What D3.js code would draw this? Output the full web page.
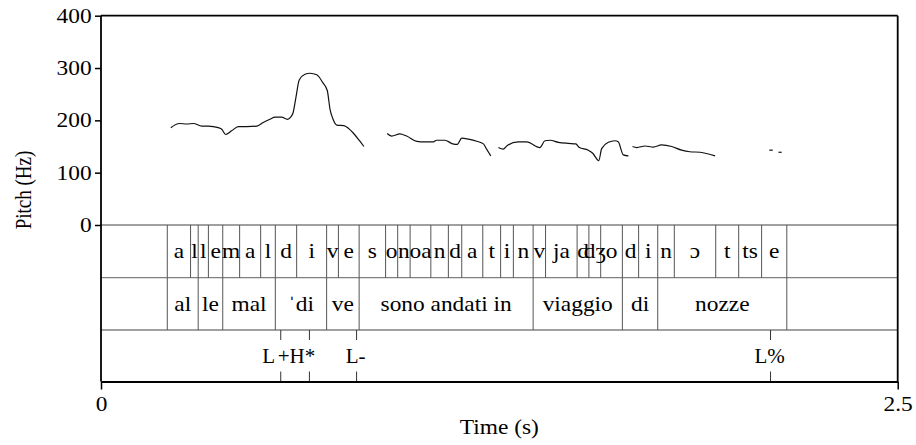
<!DOCTYPE html>
<html>
<head>
<meta charset="utf-8">
<script src="https://cdn.jsdelivr.net/npm/d3@7"></script>
<style>
  html, body { margin: 0; padding: 0; background: #fff; }
  svg { display: block; }
  text { font-family: "Liberation Serif", "Times New Roman", serif; fill: #000; }
</style>
</head>
<body>
<svg id="chart" width="916" height="445"></svg>
<script>
// ---------- DATA ----------
const yTicks = [0, 100, 200, 300, 400];
const xTicks = [0, 2.5];
const xTickLabels = ["0", "2.5"];

// pitch contour pieces: [time (s), F0 (Hz)]
const contour1 = [[0.219,186],[0.246,194],[0.269,193],[0.290,194],[0.316,189],[0.337,189],[0.368,186],[0.379,183],[0.391,173],[0.410,180],[0.431,188],[0.457,188],[0.489,189],[0.509,196],[0.530,202],[0.546,206],[0.567,206],[0.585,202],[0.595,206],[0.603,215],[0.612,245],[0.622,277],[0.640,288],[0.656,290],[0.677,287],[0.696,272],[0.710,257],[0.719,220],[0.727,204],[0.740,191],[0.762,190],[0.776,185],[0.797,172],[0.810,162],[0.825,150]];
const contour2 = [[0.898,175],[0.912,170],[0.938,174],[0.959,170],[0.991,160],[1.017,159],[1.043,159],[1.053,162],[1.079,162],[1.104,155],[1.118,154],[1.132,166],[1.153,164],[1.179,160],[1.200,155],[1.210,145],[1.223,132]];
const contour3 = [[1.247,148],[1.262,145],[1.275,152],[1.309,159],[1.336,159],[1.377,148],[1.393,161],[1.409,162],[1.435,158],[1.466,156],[1.490,155],[1.501,148],[1.529,143],[1.543,137],[1.562,123],[1.571,146],[1.592,158],[1.613,161],[1.623,159],[1.639,134],[1.655,132]];
const contour4 = [[1.668,150],[1.681,148],[1.707,151],[1.733,149],[1.759,153],[1.791,150],[1.822,143],[1.848,140],[1.880,139],[1.927,132]];
const contour5 = [[2.097,143],[2.108,143]];
const contour6 = [[2.126,139],[2.136,139]];

// phone tier
const phoneBounds = [0.208,0.281,0.305,0.337,0.382,0.435,0.501,0.547,0.614,0.708,0.745,0.810,0.893,0.931,0.970,1.035,1.090,1.132,1.198,1.254,1.294,1.356,1.395,1.494,1.531,1.568,1.636,1.687,1.747,1.799,1.929,2.001,2.073,2.152];
const phoneLabels = ["a","l","l","e","m","a","l","d","i","v","e","s","o","n","oa","n","d","a","t","i","n","v","ja","d","dʒ","o","d","i","n","ɔ","t","ts","e"];

// word tier
const wordBounds = [0.208,0.305,0.382,0.547,0.708,0.810,1.356,1.636,1.747,2.152];
const wordLabels = ["al","le","mal","ˈdi","ve","sono andati in","viaggio","di","nozze"];

// tone tier (points)
const tonePoints = [0.564,0.654,0.802,2.101];
const toneLabels = ["L","+H*","L-","L%"];

// ---------- LAYOUT ----------
const plotL = 101, plotR = 897.7, plotT = 15.7;
const tierTops = [225, 277.7, 330, 381.5];
const fontSize = 20;
const stretch = 1.17;   // horizontal stretch of the reference's lettering

const svg = d3.select("#chart");
const x = d3.scaleLinear().domain([0, 2.5]).range([plotL, plotR]);
const y = d3.scaleLinear().domain([0, 400]).range([tierTops[0], plotT]);

function stretchedText(sel, fx, fy) {
  sel.attr("transform", (d, i) => `translate(${fx(d, i)},${fy(d, i)}) scale(${stretch},1)`)
     .attr("text-anchor", "middle").attr("font-size", fontSize).text(d => d);
}

// tier separators (grey)
svg.append("g").selectAll("line").data(tierTops.slice(0, 3)).join("line")
  .attr("x1", plotL).attr("x2", plotR).attr("y1", d => d).attr("y2", d => d)
  .attr("stroke", "#808080").attr("stroke-width", 1.3);

// phone boundaries
svg.append("g").selectAll("line").data(phoneBounds).join("line")
  .attr("x1", d => x(d)).attr("x2", d => x(d))
  .attr("y1", tierTops[0]).attr("y2", tierTops[1])
  .attr("stroke", "#555").attr("stroke-width", 1);
svg.append("g").selectAll("text").data(phoneLabels).join("text")
  .call(stretchedText,
    (d, i) => (x(phoneBounds[i]) + x(phoneBounds[i + 1])) / 2,
    () => (tierTops[0] + tierTops[1]) / 2 + 7);

// word boundaries
svg.append("g").selectAll("line").data(wordBounds).join("line")
  .attr("x1", d => x(d)).attr("x2", d => x(d))
  .attr("y1", tierTops[1]).attr("y2", tierTops[2])
  .attr("stroke", "#555").attr("stroke-width", 1);
svg.append("g").selectAll("text").data(wordLabels).join("text")
  .call(stretchedText,
    (d, i) => (x(wordBounds[i]) + x(wordBounds[i + 1])) / 2,
    () => (tierTops[1] + tierTops[2]) / 2 + 7);

// tone points
const toneDx = [-12, -13, -1, -1];
const tg = svg.append("g");
tg.selectAll("line.t1").data(tonePoints).join("line").attr("class", "t1")
  .attr("x1", d => x(d)).attr("x2", d => x(d))
  .attr("y1", tierTops[2]).attr("y2", tierTops[2] + 10)
  .attr("stroke", "#333").attr("stroke-width", 1);
tg.selectAll("line.t2").data(tonePoints).join("line").attr("class", "t2")
  .attr("x1", d => x(d)).attr("x2", d => x(d))
  .attr("y1", tierTops[3] - 10).attr("y2", tierTops[3])
  .attr("stroke", "#333").attr("stroke-width", 1);
tg.selectAll("text").data(toneLabels).join("text")
  .attr("x", (d, i) => x(tonePoints[i]) + toneDx[i])
  .attr("y", (tierTops[2] + tierTops[3]) / 2 + 7)
  .attr("text-anchor", "middle").attr("font-size", 21)
  .text(d => d);

// pitch contour
const line = d3.line().x(d => x(d[0])).y(d => y(d[1])).curve(d3.curveMonotoneX);
svg.append("g").selectAll("path")
  .data([contour1, contour2, contour3, contour4, contour5, contour6]).join("path")
  .attr("d", line).attr("fill", "none").attr("stroke", "#111").attr("stroke-width", 1.2);

// frame
const frame = svg.append("g").attr("stroke", "#000").attr("fill", "none");
frame.append("line").attr("x1", plotL).attr("x2", plotR).attr("y1", plotT).attr("y2", plotT).attr("stroke-width", 1.8);
frame.append("line").attr("x1", plotR).attr("x2", plotR).attr("y1", plotT).attr("y2", tierTops[3]).attr("stroke-width", 1.8);
frame.append("line").attr("x1", plotL).attr("x2", plotL).attr("y1", plotT).attr("y2", tierTops[3]).attr("stroke-width", 1.8);

// y axis
const yAxis = svg.append("g").attr("transform", `translate(${plotL},0)`)
  .call(d3.axisLeft(y).tickValues(yTicks).tickSize(6).tickSizeOuter(0).tickPadding(2));
yAxis.select(".domain").remove();
yAxis.selectAll("line").attr("stroke", "#000").attr("stroke-width", 1.5);
yAxis.selectAll("text").attr("font-size", fontSize).attr("font-family", "Liberation Serif").attr("fill", "#000")
  .attr("transform", `scale(${stretch},1)`);

// x axis
const xAxis = svg.append("g").attr("transform", `translate(0,${tierTops[3]})`)
  .call(d3.axisBottom(x).tickValues(xTicks).tickFormat((d, i) => xTickLabels[i]).tickSize(8).tickSizeOuter(0).tickPadding(7));
xAxis.select(".domain").attr("stroke", "#000").attr("stroke-width", 2);
xAxis.selectAll("line").attr("stroke", "#000").attr("stroke-width", 1.5);
xAxis.selectAll("text").attr("font-size", fontSize).attr("font-family", "Liberation Serif").attr("fill", "#000")
  .attr("transform", `scale(${stretch},1)`);

// axis titles
svg.append("text").attr("transform", `translate(${(plotL + plotR) / 2},434) scale(${stretch},1)`)
  .attr("text-anchor", "middle").attr("font-size", fontSize).text("Time (s)");
svg.append("text").attr("transform", `translate(31,190) rotate(-90) scale(1,${stretch})`)
  .attr("text-anchor", "middle").attr("font-size", 19).text("Pitch (Hz)");
</script>
</body>
</html>
